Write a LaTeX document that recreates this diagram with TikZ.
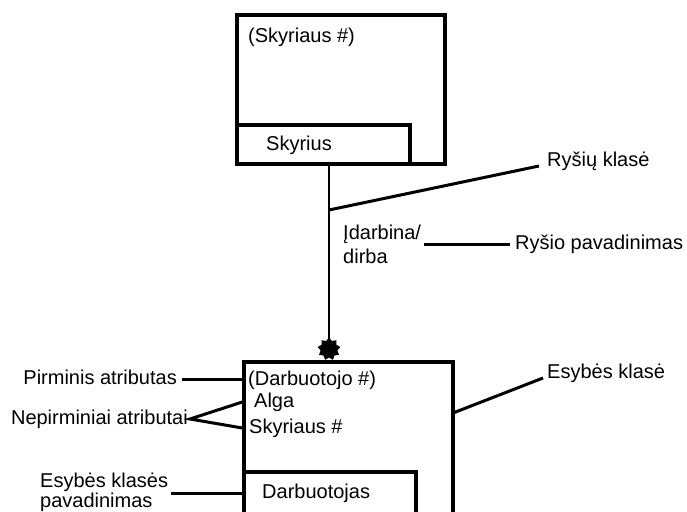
\documentclass[tikz,border=0pt]{standalone}
\usepackage{fontspec}
\setmainfont{Liberation Sans}
\usetikzlibrary{shapes.geometric}
\begin{document}
\begin{tikzpicture}[x=1pt,y=-1pt,
  txt/.style={inner ysep=0pt, inner xsep=0pt, font=\fontsize{20}{24}\selectfont,
              text height=14pt, text depth=4pt},
  multi/.style={inner ysep=0pt, inner xsep=3pt, align=left},
  frame/.style={draw, line width=3.4pt, inner sep=0pt},
  lead/.style={line width=3pt},
  link/.style={line width=1.8pt},
]
\useasboundingbox (0,0) rectangle (687,511);

% entity class "Skyrius"
\node[frame, minimum width=208pt, minimum height=149pt] (dept) at (341,89.5) {};
\node[frame, minimum width=173pt, minimum height=39pt] (deptname) at (323.5,144.5) {};
\node[txt, anchor=base west] (deptkey) at (248,43) {(Skyriaus \#)};
\node[txt, anchor=base west] (deptlbl) at (266,150) {Skyrius};

% entity class "Darbuotojas" (runs off the lower edge)
\begin{scope}
  \clip (0,0) rectangle (687,511);
  \node[frame, minimum width=209pt, minimum height=278pt] (emp) at (348.5,501) {};
  \node[frame, minimum width=172pt, minimum height=88pt] (empname) at (330,516) {};
\end{scope}
\node[txt, anchor=base west] (empkey) at (248,385) {(Darbuotojo \#)};
\node[txt, anchor=base west] (alga) at (254,407) {Alga};
\node[txt, anchor=base west] (skyr) at (249,433) {Skyriaus \#};
\node[txt, anchor=base west] (emplbl) at (262,498) {Darbuotojas};

% relationship line with the "many" end
\node[star, star points=9, star point ratio=1.35, fill, minimum size=23pt, inner sep=0pt] (crow) at (329,349) {};
\draw[link] (crow.center) -- (crow.center |- dept.south);
\node[multi, font=\fontsize{20}{23.5}\selectfont, anchor=base west] (rel) at (340,263) {Įdarbina/\\dirba};

% annotations
\coordinate (relfoot) at (329,210);
\node[txt, inner xsep=8pt, anchor=base west] (relcls) at (539,166) {Ryšių klasė};
\draw[lead] (relfoot) -- (relcls.base west);

\node[txt, inner xsep=5pt, anchor=base west] (relname) at (510,249) {Ryšio pavadinimas};
\draw[lead] (rel.east |- relname.west) -- (relname.west);

\coordinate (entfoot) at (453,413);
\node[txt, inner xsep=4pt, anchor=base west] (entcls) at (543,378) {Esybės klasė};
\draw[lead] (entfoot) -- (entcls.base west);

\node[txt, inner xsep=5pt, anchor=base east] (pk) at (182,384) {Pirminis atributas};
\draw[lead] (pk.east) -- (pk.east -| emp.west);

\node[txt, inner xsep=2pt, anchor=base east] (npk) at (190,424) {Nepirminiai atributai};
\draw[lead] (alga.west -| emp.west) -- (npk.east) -- (skyr.west -| emp.west);

\node[multi, font=\fontsize{20}{20}\selectfont, anchor=base west] (entname) at (37,507) {Esybės klasės\\pavadinimas};
\draw[lead] (entname.east |- emplbl.west) -- (emplbl.west -| empname.west);
\end{tikzpicture}
\end{document}
